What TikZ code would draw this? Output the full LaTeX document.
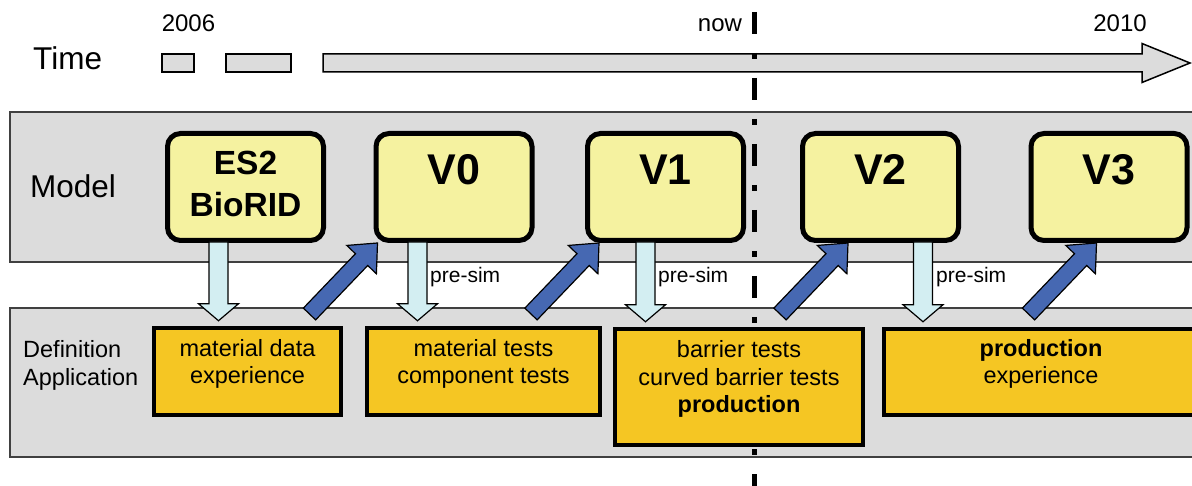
\documentclass[tikz,border=0pt]{standalone}
\usepackage{fontspec}
\setmainfont{Liberation Sans}
\usetikzlibrary{calc}
\definecolor{panelgray}{HTML}{DCDCDC}
\definecolor{modelyellow}{HTML}{F5F2A0}
\definecolor{taskorange}{HTML}{F5C623}
\definecolor{presimcyan}{HTML}{D3EEF2}
\definecolor{updateblue}{HTML}{4668B2}
\newcommand{\fs}[2]{\fontsize{#1}{#2}\selectfont}

\tikzset{
  blockshaft/.store in=\shafthw,
  blockhead/.store in=\headhw,
  blockheadlen/.store in=\headlen,
  block/.style={to path={
    let \p1=($(\tikztotarget)!\headlen!(\tikztostart)$) in
    ($(\tikztostart)!\shafthw!90:(\tikztotarget)$)
    -- ($(\p1)!\shafthw!90:(\tikztotarget)$)
    -- ($(\p1)!\headhw!90:(\tikztotarget)$)
    -- (\tikztotarget)
    -- ($(\p1)!\headhw!-90:(\tikztotarget)$)
    -- ($(\p1)!\shafthw!-90:(\tikztotarget)$)
    -- ($(\tikztostart)!\shafthw!-90:(\tikztotarget)$)
    -- cycle}},
  panel/.style={draw=black!75, line width=1.5pt, fill=panelgray},
  timebar/.style={draw=black, line width=1.5pt, fill=panelgray},
  nowline/.style={line width=5pt, dash pattern=on 22pt off 19pt on 6pt off 19pt},
  model/.style={draw=black, line width=5pt, fill=modelyellow, rounded corners=13pt,
    minimum width=156pt, minimum height=107pt, inner sep=0pt},
  version/.style={model, font=\bfseries\fs{43}{50}, text height=30pt, text depth=34pt},
  task/.style={draw=black, line width=4.5pt, fill=taskorange, align=center,
    font=\fs{23.5}{27.5}, inner sep=0pt, text height=35pt, text depth=10pt},
  presim/.style={draw=black, line width=1.2pt, fill=presimcyan,
    blockshaft=9.5pt, blockhead=20pt, blockheadlen=17pt, block},
  update/.style={draw=black, line width=1.2pt, fill=updateblue,
    blockshaft=8.5pt, blockhead=20.5pt, blockheadlen=23pt, block},
  rowlabel/.style={inner sep=0pt, font=\fs{31.5}{36}},
  year/.style={inner sep=0pt, anchor=base, font=\fs{24}{28}}
}

\begin{document}
\begin{tikzpicture}[x=1pt, y=-1pt]
  \useasboundingbox (0,0) rectangle (1192,486);

  % rows
  \draw[panel] (10,112) rectangle (1200,262);
  \draw[panel] (10,308) rectangle (1200,457);

  % time axis
  \draw[timebar] (162,54) rectangle (194,72);
  \draw[timebar] (226,54) rectangle (291,72);
  \draw[timebar] (323,54) -- (1142,54) -- (1142,43.5) -- (1190,63)
    -- (1142,82.5) -- (1142,72) -- (323,72) -- cycle;
  \draw[nowline] (754,12) -- (754,486);

  % models
  \node[model, font=\bfseries\fs{33.5}{42}, align=center, text height=70pt, text depth=10pt]
    (es2) at (245.5,187) {ES2\\BioRID};
  \foreach \n/\x in {0/454, 1/665.5, 2/880.5, 3/1109}
    \node[version] (v\n) at (\x,187) {V\n};

  % definition / application
  \node[task, minimum width=187pt, minimum height=87pt] (matdata) at (247.5,371.5)
    {material data\\experience};
  \node[task, minimum width=233pt, minimum height=87pt] (comptests) at (483.5,371.5)
    {material tests\\component tests};
  \node[task, minimum width=248pt, minimum height=116pt, text height=62pt] (barrier) at (739,387)
    {barrier tests\\curved barrier tests\\\textbf{production}};
  \node[task, minimum width=314pt, minimum height=86pt, text height=34pt] (prodexp) at (1041,372)
    {\textbf{production}\\experience};

  % arrows
  \foreach \m/\t/\dx in {es2/matdata/53.5, v0/comptests/44, v1/barrier/60.5, v2/prodexp/123}
    \draw[presim] ($(\m.south west)+(\dx,-1)$) to ($(\m.south west |- \t.north)+(\dx,-5)$);
  \foreach \v/\dx in {v0/4, v1/14, v2/48, v3/68}
    \draw[update] ($(\v.south west)+(\dx-68,71)$) to ($(\v.south west)+(\dx,0)$);

  % texts
  \node[rowlabel, anchor=base west] (time) at (33,70) {Time};
  \node[year] (y2006) at (188.5,32) {2006};
  \node[year] (now) at (720,32) {now};
  \node[year] (y2010) at (1120,32) {2010};
  \node[rowlabel, anchor=base west] (modellabel) at (30,198) {Model};
  \node[inner sep=0pt, anchor=west, align=left, font=\fs{23.5}{27.5}] (deflabel) at (23,365.5)
    {Definition\\Application};
  \foreach \n/\x in {0/430, 1/658, 2/936}
    \node[inner sep=0pt, anchor=base west, font=\fs{21}{25}] (presim\n) at (\x,283) {pre-sim};
\end{tikzpicture}
\end{document}
